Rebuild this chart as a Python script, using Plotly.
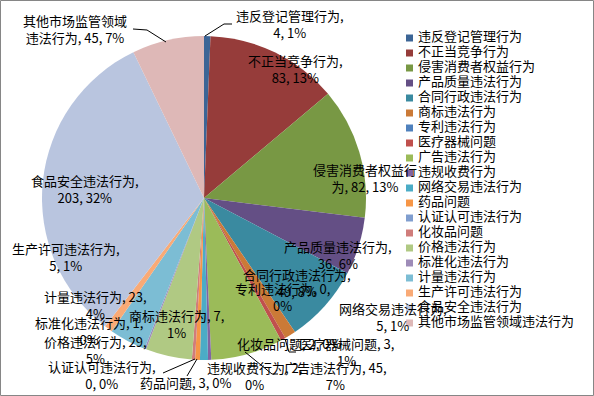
import plotly.graph_objects as go

# ---------------- data ----------------
categories = [
    "违反登记管理行为", "不正当竞争行为", "侵害消费者权益行为", "产品质量违法行为",
    "合同行政违法行为", "商标违法行为", "专利违法行为", "医疗器械问题",
    "广告违法行为", "违规收费行为", "网络交易违法行为", "药品问题",
    "认证认可违法行为", "化妆品问题", "价格违法行为", "标准化违法行为",
    "计量违法行为", "生产许可违法行为", "食品安全违法行为", "其他市场监管领域违法行为",
]
values = [4, 83, 82, 36, 49, 7, 0, 3, 45, 2, 5, 3, 0, 2, 29, 1, 23, 5, 203, 45]
percent_labels = [1, 13, 13, 6, 8, 1, 0, 1, 7, 0, 1, 0, 0, 0, 5, 0, 4, 1, 32, 7]

colors = [
    "#3C6596", "#963C3A", "#789844", "#644F85", "#3A8AA0", "#CB7A37",
    "#4F81BD", "#C0504D", "#9BBB59", "#8064A2", "#4BACC6", "#F79646",
    "#809ECF", "#D07D7B", "#B0C983", "#9E8CB8", "#7CBDD4", "#F9AA76",
    "#B9C5DF", "#DEB8B7",
]

# ---------------- layout constants (pixels) ----------------
W, H = 594, 396
FONT = "Noto Sans CJK SC"
FS = 13
PIE_CX, PIE_CY, PIE_R = 204, 198, 162

label_centers = [
    (290, 24), (295, 69), (365, 178), (338, 255), (297, 283), (176, 324),
    (282, 297), (347, 352), (335, 376), (254, 376), (393, 317), (185, 382),
    (102, 375), (289, 343), (95, 350), (89, 331), (95, 305), (66, 257),
    (85, 189), (75, 29),
]
leaders = [
    [(205, 36), (224, 24), (232, 24)],
    [(166, 42), (147, 30), (133, 29)],
    [(245, 352), (272, 374), (278, 374)],
    [(285, 339), (289, 352), (296, 352)],
    [(195, 359), (163, 373)],
    [(197, 359), (187, 376)],
]
LEG_MARK_X, LEG_TEXT_X, LEG_TOP, LEG_STEP = 409.5, 418, 38, 15


def px(x):
    return x / W


def py(y):
    return 1 - y / H


def text_width(s):
    w = 0
    for c in s:
        if ord(c) > 0x2E80:
            w += 13
        elif c in ", ":
            w += 3.5
        elif c == "%":
            w += 10
        else:
            w += 7
    return w


def wrap_label(cat, val, pct, maxw=112):
    units = list(cat[:-1]) + [cat[-1] + ","] + [f" {val},", f" {pct}%"]
    lines, line = [], ""
    for u in units:
        cand = line + u
        if line and text_width(cand) > maxw:
            lines.append(line)
            line = u.lstrip()
        else:
            line = cand
    lines.append(line)
    return "<br>".join(lines)


fig = go.Figure()

fig.add_trace(go.Pie(
    labels=categories,
    values=values,
    sort=False,
    direction="clockwise",
    rotation=0,
    marker=dict(colors=colors, line=dict(width=0)),
    textinfo="none",
    hoverinfo="skip",
    showlegend=False,
    domain=dict(x=[px(PIE_CX - PIE_R), px(PIE_CX + PIE_R)],
                y=[py(PIE_CY + PIE_R), py(PIE_CY - PIE_R)]),
))

# legend drawn as a categorical scatter (15 px row spacing like the reference)
n = len(categories)
fig.add_trace(go.Scatter(
    x=[LEG_MARK_X] * n, y=categories, mode="markers",
    marker=dict(symbol="square", size=7, color=colors),
    hoverinfo="skip", showlegend=False, cliponaxis=False,
))
fig.add_trace(go.Scatter(
    x=[LEG_TEXT_X] * n, y=categories, mode="text", text=categories,
    textposition="middle right",
    textfont=dict(family=FONT, size=FS, color="#000000"),
    hoverinfo="skip", showlegend=False, cliponaxis=False,
))

annotations = []
for cat, val, pct, (cx, cy) in zip(categories, values, percent_labels, label_centers):
    annotations.append(dict(
        x=px(cx), y=py(cy), xref="paper", yref="paper",
        text=wrap_label(cat, val, pct), showarrow=False,
        xanchor="center", yanchor="middle", align="center",
        font=dict(family=FONT, size=FS, color="#000000"),
    ))

shapes = []
for pts in leaders:
    for (x0, y0), (x1, y1) in zip(pts[:-1], pts[1:]):
        shapes.append(dict(type="line", xref="paper", yref="paper",
                           x0=px(x0), y0=py(y0), x1=px(x1), y1=py(y1),
                           line=dict(color="#000000", width=1)))
shapes.append(dict(type="rect", xref="paper", yref="paper",
                   x0=px(0.5), x1=px(W - 0.5), y0=py(H - 0.5), y1=py(0.5),
                   line=dict(color="#868686", width=1)))

y_top = -(LEG_TOP) / LEG_STEP
y_bot = (H - LEG_TOP) / LEG_STEP
fig.update_layout(
    width=W, height=H, autosize=False,
    margin=dict(l=0, r=0, t=0, b=0),
    paper_bgcolor="white", plot_bgcolor="rgba(0,0,0,0)",
    font=dict(family=FONT, size=FS, color="#000000"),
    xaxis=dict(range=[0, W], visible=False, fixedrange=True),
    yaxis=dict(range=[y_bot, y_top], visible=False, fixedrange=True,
               type="category"),
    annotations=annotations,
    shapes=shapes,
    showlegend=False,
)

fig.write_html("out.html", config={"displayModeBar": False},
               post_script="document.body.style.margin='0';")
